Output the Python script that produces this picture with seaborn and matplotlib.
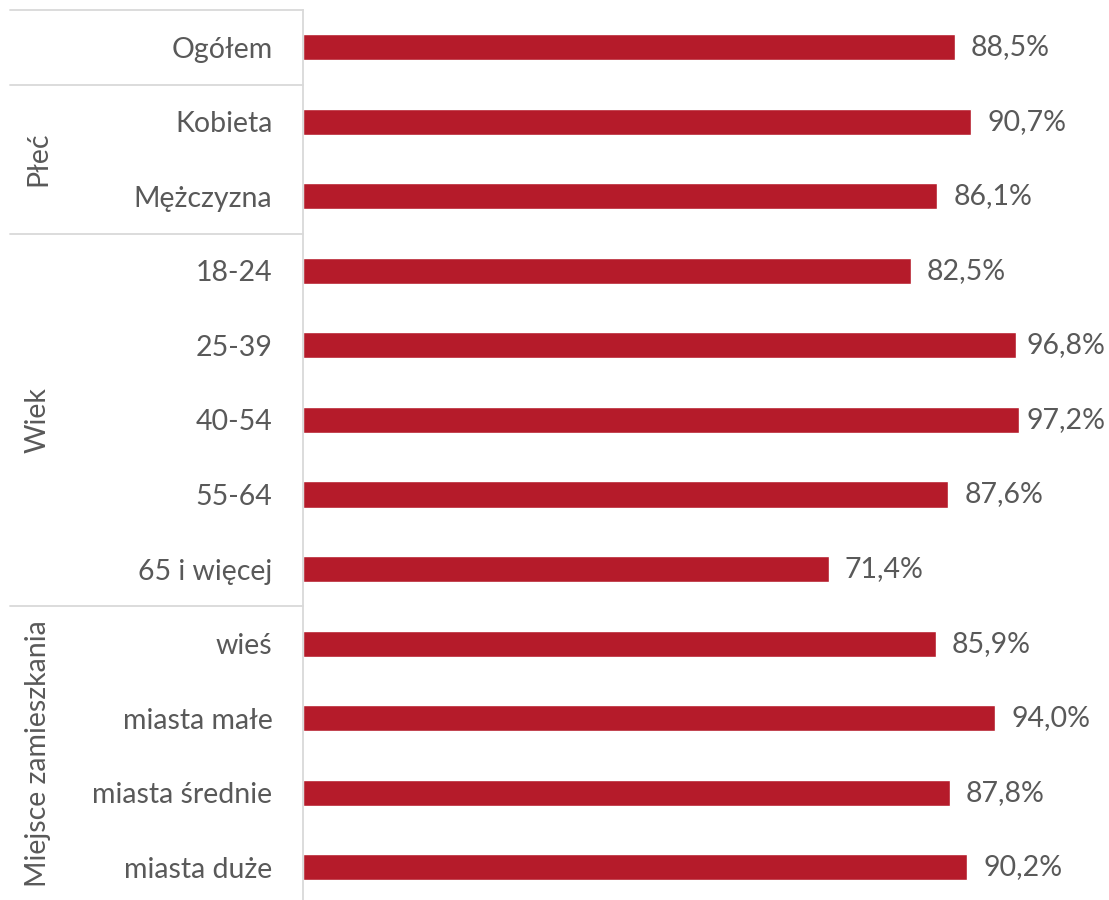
import matplotlib
matplotlib.use("Agg")
import matplotlib.pyplot as plt
import seaborn as sns
import pandas as pd
from matplotlib.transforms import offset_copy

categories = ["Ogółem", "Kobieta", "Mężczyzna", "18-24", "25-39", "40-54",
              "55-64", "65 i więcej", "wieś", "miasta małe", "miasta średnie",
              "miasta duże"]
values = [88.5, 90.7, 86.1, 82.5, 96.8, 97.2, 87.6, 71.4, 85.9, 94.0, 87.8, 90.2]
groups = ["", "Płeć", "Płeć", "Wiek", "Wiek", "Wiek", "Wiek", "Wiek",
          "Miejsce zamieszkania", "Miejsce zamieszkania",
          "Miejsce zamieszkania", "Miejsce zamieszkania"]

df = pd.DataFrame({"kategoria": categories, "wartosc": values, "grupa": groups})

sns.set_theme(style="white")
plt.rcParams["font.family"] = ["Lato", "DejaVu Sans"]

TEXT = "#595959"
GRID = "#D9D9D9"
BAR = "#B51B2A"
FS = 20.5

W, H = 1109, 900
fig = plt.figure(figsize=(W / 100, H / 100), dpi=100)
ax_left = 303 / W
ax_top = 1 - 10 / H
ax = fig.add_axes([ax_left, 0.0, 1 - ax_left, ax_top])

sns.barplot(data=df, y="kategoria", x="wartosc", orient="h", color=BAR,
            width=0.35, saturation=1, ax=ax)

px_per_unit = 7.366
ax.set_xlim(0, (W - 303) / px_per_unit)
ax.set_ylim(11.44, -0.5)

ax.set_xlabel("")
ax.set_ylabel("")
ax.set_xticks([])
ax.tick_params(axis="y", length=0, pad=22, labelsize=FS, labelcolor=TEXT)
for s in ["top", "right", "bottom"]:
    ax.spines[s].set_visible(False)
ax.spines["left"].set_color(GRID)
ax.spines["left"].set_linewidth(1.3)

# value labels at the end of each bar
labels = []
for i, v in enumerate(df["wartosc"]):
    tr = offset_copy(ax.transData, fig=fig, x=16, y=0, units="dots")
    t = ax.text(v, i, f"{v:.1f}%".replace(".", ","), transform=tr,
                ha="left", va="center", fontsize=FS, color=TEXT)
    labels.append((t, v, i))

# group separators and rotated group names
trans = ax.get_yaxis_transform()
sep_x0 = (10 / W - ax_left) / (1 - ax_left)
for yb in [-0.5, 0.5, 2.5, 7.5]:
    ax.plot([sep_x0, 0], [yb, yb], transform=trans, color=GRID, lw=1.3,
            clip_on=False)

group_spans = {}
for i, g in enumerate(groups):
    if g:
        group_spans.setdefault(g, []).append(i)
ylo, yhi = ax.get_ylim()
for g, idx in group_spans.items():
    top = min(idx) - 0.5
    bottom = min(max(idx) + 0.5, ylo)
    yc = (top + bottom) / 2
    ax.text((38 / W - ax_left) / (1 - ax_left), yc, g, transform=trans,
            rotation=90, ha="center", va="center", fontsize=FS, color=TEXT)

# keep labels of the longest bars inside the canvas
fig.canvas.draw()
r = fig.canvas.get_renderer()
for t, v, i in labels:
    bb = t.get_window_extent(r)
    if bb.x1 > W - 4:
        shift = bb.x1 - (W - 4)
        tr = offset_copy(ax.transData, fig=fig, x=16 - shift, y=0, units="dots")
        t.set_transform(tr)

fig.savefig("out.png", dpi=100)
